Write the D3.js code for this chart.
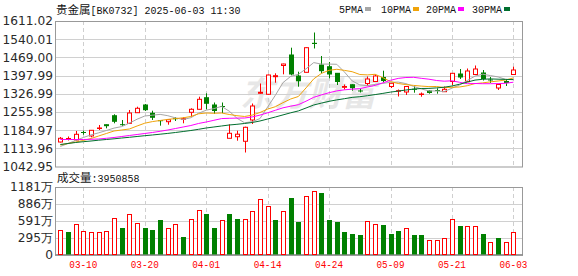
<!doctype html>
<html>
<head>
<meta charset="utf-8">
<script src="https://d3js.org/d3.v7.min.js"></script>
<style>
body { margin: 0; background: #fff; }
</style>
</head>
<body>
<script>
// trading days shown (03-05 .. 06-03)
var dates = ["03-05","03-06","03-07","03-10","03-11","03-12","03-13","03-14","03-17","03-18",
  "03-19","03-20","03-21","03-24","03-25","03-26","03-27","03-28","03-31","04-01",
  "04-02","04-03","04-07","04-08","04-09","04-10","04-11","04-14","04-15","04-16",
  "04-17","04-18","04-21","04-22","04-23","04-24","04-25","04-28","04-29","04-30",
  "05-06","05-07","05-08","05-09","05-12","05-13","05-14","05-15","05-16","05-19",
  "05-20","05-21","05-22","05-23","05-26","05-27","05-28","05-29","05-30","06-03"];

var opens = [1138.6,1150.3,1146.4,1175.7,1162.1,1191.3,1206.2,1241.3,1206.2,1211.6,
  1253.0,1283.1,1250.7,1221.8,1217.9,1229.6,1227.3,1254.6,1266.3,1311.6,
  1283.1,1277.2,1153.1,1159.3,1141.4,1224.5,1328.8,1324.9,1393.6,1437.3,
  1478.3,1396.3,1410.7,1523.9,1439.2,1432.6,1406.8,1352.2,1362.3,1337.7,
  1367.0,1374.8,1390.4,1355.3,1336.9,1333.8,1344.4,1324.1,1337.7,1339.7,
  1335.0,1374.8,1404.1,1374.0,1402.1,1408.0,1380.7,1349.4,1374.8,1402.1];
var highs = [1158.2,1160.1,1181.6,1182.7,1185.5,1205.0,1207.0,1246.8,1224.5,1263.6,
  1276.4,1287.0,1260.8,1223.3,1226.5,1235.1,1235.1,1270.2,1315.5,1328.8,
  1292.8,1292.8,1207.7,1182.7,1198.4,1288.9,1367.0,1402.1,1406.8,1444.3,
  1506.8,1413.1,1508.3,1566.1,1474.4,1451.0,1408.0,1363.1,1363.9,1346.7,
  1394.4,1402.1,1417.0,1368.2,1343.6,1356.1,1358.4,1331.9,1341.6,1348.3,
  1355.3,1407.2,1423.6,1425.6,1437.3,1419.7,1392.4,1363.9,1382.6,1432.6];
var lows = [1136.7,1144.5,1144.5,1167.1,1157.0,1185.5,1192.1,1211.6,1201.5,1209.7,
  1253.0,1259.7,1224.5,1202.3,1206.2,1220.6,1211.6,1237.4,1265.5,1265.5,
  1248.0,1251.8,1153.1,1143.7,1097.6,1208.9,1326.8,1322.1,1370.1,1402.9,
  1399.0,1354.5,1410.0,1503.7,1406.8,1387.3,1361.2,1343.6,1338.9,1331.9,
  1358.4,1372.9,1371.7,1349.4,1316.3,1322.1,1331.1,1315.5,1327.2,1327.2,
  1333.8,1361.2,1384.6,1372.9,1400.2,1378.7,1369.0,1341.6,1357.2,1402.1];
var closes = [1153.1,1152.3,1168.7,1173.8,1184.3,1193.3,1198.4,1215.5,1202.3,1251.8,
  1270.2,1260.8,1231.1,1217.9,1225.7,1227.3,1229.6,1266.3,1305.3,1285.8,
  1257.7,1273.3,1172.6,1169.1,1196.0,1279.2,1332.7,1400.2,1397.5,1443.1,
  1400.2,1374.0,1506.8,1519.3,1413.1,1400.2,1370.9,1355.3,1346.7,1335.0,
  1384.6,1396.3,1374.8,1367.8,1338.9,1355.3,1342.0,1326.0,1328.0,1337.7,
  1344.4,1406.8,1388.5,1415.8,1423.6,1382.6,1378.0,1363.1,1367.0,1419.7];

var ma5 = [1121.1,1132.8,1144.5,1156.2,1166.4,1174.5,1183.5,1192.9,1198.8,1212.4,
  1227.6,1240.1,1243.3,1246.4,1241.3,1232.7,1226.5,1233.5,1250.7,1262.8,
  1269.0,1277.6,1258.9,1231.5,1213.6,1217.9,1230.0,1275.3,1320.9,1370.5,
  1394.7,1402.9,1424.4,1448.6,1442.8,1442.8,1442.0,1411.9,1377.2,1361.5,
  1358.4,1363.5,1367.4,1371.7,1372.5,1366.6,1355.7,1345.9,1338.1,1337.7,
  1335.8,1348.7,1361.2,1378.7,1395.9,1403.3,1397.9,1392.8,1383.0,1382.2];
var ma10 = [1126.9,1132.8,1138.6,1144.5,1152.3,1162.1,1171.8,1181.6,1185.5,1189.4,
  1201.1,1212.0,1218.3,1222.6,1226.9,1230.0,1233.1,1238.2,1248.7,1251.8,
  1250.7,1251.8,1246.0,1241.3,1238.2,1243.6,1253.8,1267.1,1276.4,1292.1,
  1306.5,1316.3,1349.8,1385.0,1406.4,1418.5,1422.5,1418.2,1413.1,1402.2,
  1400.6,1402.9,1389.7,1374.4,1367.0,1362.7,1359.6,1356.9,1354.9,1355.3,
  1351.0,1352.2,1353.4,1358.4,1366.6,1369.4,1373.3,1376.8,1380.7,1388.9];
var ma20 = [1148.4,1148.4,1148.4,1148.4,1149.2,1150.3,1153.1,1156.2,1160.1,1164.0,
  1167.9,1171.8,1175.7,1180.4,1185.5,1191.3,1197.2,1203.0,1210.9,1216.7,
  1223.3,1230.0,1231.2,1231.9,1232.3,1236.6,1243.6,1252.6,1262.4,1272.1,
  1278.4,1284.3,1297.9,1313.1,1322.5,1331.1,1338.1,1342.4,1344.8,1347.1,
  1353.4,1359.6,1369.7,1379.5,1386.9,1390.4,1391.2,1387.3,1383.8,1378.7,
  1376.0,1377.6,1371.7,1366.2,1367.0,1366.2,1366.2,1366.6,1367.8,1372.1];
var ma30 = [1128.9,1132.8,1136.7,1139.8,1142.5,1145.7,1148.4,1151.1,1154.2,1157.0,
  1160.1,1163.2,1166.0,1169.1,1172.2,1175.7,1179.6,1183.5,1188.2,1193.3,
  1197.2,1201.1,1205.0,1207.7,1210.9,1214.8,1220.6,1228.4,1236.2,1244.4,
  1252.6,1260.0,1271.4,1283.1,1290.5,1297.5,1303.0,1307.7,1312.8,1315.5,
  1319.4,1323.7,1328.4,1333.4,1337.3,1341.6,1345.2,1347.5,1347.9,1349.8,
  1352.6,1357.3,1364.3,1372.5,1380.3,1383.4,1385.0,1383.8,1383.0,1382.2];

// volume in 万 (10k)
var volumes = [426,396,542,408,391,391,408,646,466,716,
  559,466,426,599,472,525,309,617,773,703,
  466,611,703,617,617,756,976,855,599,756,
  987,570,1016,1103,1074,599,570,396,356,339,
  582,530,512,356,408,455,339,339,252,252,
  281,629,495,495,495,356,212,292,212,395];
// 1 = red (up vs previous close), 0 = green
var volUp = [1,0,1,1,1,1,1,1,0,1, 1,0,0,0,1,1,0,1,1,0,
  0,1,0,0,1,1,1,1,0,1, 0,0,1,1,0,0,0,0,0,0,
  1,1,0,0,0,1,0,0,1,1, 1,1,0,1,1,0,1,0,1,1];

var priceTicks = [1611.02,1540.01,1469.00,1397.99,1326.99,1255.98,1184.97,1113.96,1042.95];
var volTicks = [0,295,591,886,1181];
var dateTicks = ["03-10","03-20","04-01","04-14","04-24","05-09","05-21","06-03"];
var maNames = ["5PMA","10PMA","20PMA","30PMA"];
var maColors = ["#a6a6a6","#f0a30a","#ff00ff","#006e2e"];

var W = 578, H = 276;
var left = 55, right = 522;
var mainTop = 21, mainBottom = 166.5;
var volTop = 187, volBottom = 254.5;
var RED = "#ff0000", GREEN = "#008000";

var svg = d3.select("body").append("svg")
  .attr("width", W).attr("height", H)
  .style("font-family", "'DejaVu Sans', sans-serif");

var x = d3.scalePoint().domain(dates).range([60.3, 513.4]);
var y = d3.scaleLinear().domain([1042.95, 1611.02]).range([mainBottom, mainTop]);
var yv = d3.scaleLinear().domain([0, 1181]).range([volBottom, volTop]);
var px = function(d) { return Math.round(x(d)); };

// watermark
svg.append("text")
  .attr("x", 240).attr("y", 106)
  .attr("font-family", "'Noto Sans CJK SC'")
  .attr("font-size", 34).attr("font-weight", "bold").attr("font-style", "italic")
  .attr("fill", "#000").attr("opacity", 0.09)
  .text("东方财富");

// grid for main panel
svg.append("g").selectAll("line").data(priceTicks.slice(1, -1)).enter().append("line")
  .attr("x1", left).attr("x2", right)
  .attr("y1", function(d) { return Math.round(y(d)) + 0.5; })
  .attr("y2", function(d) { return Math.round(y(d)) + 0.5; })
  .attr("stroke", "#d0d0d0");
svg.append("g").selectAll("line").data(volTicks.slice(1, -1)).enter().append("line")
  .attr("x1", left).attr("x2", right)
  .attr("y1", function(d) { return Math.round(yv(d)) + 0.5; })
  .attr("y2", function(d) { return Math.round(yv(d)) + 0.5; })
  .attr("stroke", "#d0d0d0");

// vertical dashed lines at date ticks, both panels
[[mainTop, mainBottom], [volTop, volBottom]].forEach(function(r) {
  svg.append("g").selectAll("line").data(dateTicks).enter().append("line")
    .attr("x1", function(d) { return px(d) + 0.5; })
    .attr("x2", function(d) { return px(d) + 0.5; })
    .attr("y1", r[0]).attr("y2", r[1])
    .attr("stroke", "#cfcfcf").attr("stroke-dasharray", "4,3");
});

// frames
svg.append("rect").attr("x", left + 0.5).attr("y", mainTop + 0.5)
  .attr("width", right - left).attr("height", mainBottom - mainTop)
  .attr("fill", "none").attr("stroke", "#999");
svg.append("rect").attr("x", left + 0.5).attr("y", volTop + 0.5)
  .attr("width", right - left).attr("height", volBottom - volTop)
  .attr("fill", "none").attr("stroke", "#999");
svg.append("line").attr("x1", left).attr("x2", right + 1)
  .attr("y1", volBottom + 0.5).attr("y2", volBottom + 0.5)
  .attr("stroke", "#888").attr("stroke-width", 1.5);

// candles
var idx = d3.range(dates.length);
var cg = svg.append("g");
cg.selectAll("line.wick").data(idx).enter().append("line")
  .attr("x1", function(i) { return px(dates[i]) + 0.5; })
  .attr("x2", function(i) { return px(dates[i]) + 0.5; })
  .attr("y1", function(i) { return y(highs[i]); })
  .attr("y2", function(i) { return y(lows[i]); })
  .attr("stroke", function(i) { return closes[i] >= opens[i] ? RED : GREEN; });
cg.selectAll("rect.body").data(idx).enter().append("rect")
  .attr("x", function(i) { return closes[i] >= opens[i] ? px(dates[i]) - 1.5 : px(dates[i]) - 2; })
  .attr("y", function(i) {
    var t = y(Math.max(opens[i], closes[i]));
    return closes[i] >= opens[i] ? t : t - 0.5;
  })
  .attr("width", function(i) { return closes[i] >= opens[i] ? 4 : 5; })
  .attr("height", function(i) {
    var h = Math.abs(y(opens[i]) - y(closes[i]));
    return closes[i] >= opens[i] ? Math.max(h, 0.5) : Math.max(h, 1);
  })
  .attr("fill", function(i) { return closes[i] >= opens[i] ? "#fff" : GREEN; })
  .attr("stroke", function(i) { return closes[i] >= opens[i] ? RED : "none"; })
  .attr("stroke-width", 1);

// moving averages
var line = d3.line().x(function(d, i) { return x(dates[i]); }).y(function(d) { return y(d); });
[ma5, ma10, ma20, ma30].forEach(function(s, k) {
  svg.append("path").datum(s).attr("d", line)
    .attr("fill", "none").attr("stroke", maColors[k]).attr("stroke-width", 1);
});

// volume bars
svg.append("g").selectAll("rect").data(idx).enter().append("rect")
  .attr("x", function(i) { return volUp[i] ? px(dates[i]) - 1.5 : px(dates[i]) - 2; })
  .attr("y", function(i) { return Math.round(yv(volumes[i])) + (volUp[i] ? 0.5 : 0); })
  .attr("width", function(i) { return volUp[i] ? 4 : 5; })
  .attr("height", function(i) { return volBottom - Math.round(yv(volumes[i])) - (volUp[i] ? 0.5 : 0); })
  .attr("fill", function(i) { return volUp[i] ? "#fff" : GREEN; })
  .attr("stroke", function(i) { return volUp[i] ? RED : "none"; });

// price axis labels
svg.append("g").selectAll("text").data(priceTicks).enter().append("text")
  .attr("x", 53).attr("y", function(d) { return y(d); })
  .attr("dy", "0.36em").attr("text-anchor", "end")
  .attr("font-size", 12.2).attr("fill", "#2a2a2a")
  .text(function(d) { return d.toFixed(2); });

// volume axis labels
svg.append("g").selectAll("text").data(volTicks).enter().append("text")
  .attr("x", 53).attr("y", function(d) { return yv(d); })
  .attr("dy", "0.36em").attr("text-anchor", "end")
  .attr("font-size", 12.2).attr("fill", "#2a2a2a")
  .text(function(d) { return d === 0 ? "0" : d + "万"; });

// date labels
svg.append("g").selectAll("text").data(dateTicks).enter().append("text")
  .attr("x", function(d) { return x(d); }).attr("y", 268)
  .attr("text-anchor", "middle")
  .attr("font-family", "'Liberation Mono', monospace")
  .attr("font-size", 10).attr("fill", RED)
  .attr("textLength", 28).attr("lengthAdjust", "spacingAndGlyphs")
  .text(function(d) { return d; });

// title
var title = svg.append("text").attr("x", 56).attr("y", 14).attr("fill", "#111");
title.append("tspan").attr("font-family", "'Noto Sans CJK SC'").attr("font-size", 11.5).text("贵金属");
title.append("tspan").attr("font-family", "'Liberation Mono', monospace").attr("font-size", 10)
  .text("[BK0732] 2025-06-03 11:30");

// volume title
var vt = svg.append("text").attr("x", 57).attr("y", 182).attr("fill", "#111");
vt.append("tspan").attr("font-family", "'Noto Sans CJK SC'").attr("font-size", 11.5).text("成交量");
vt.append("tspan").attr("font-family", "'Liberation Mono', monospace").attr("font-size", 10).text(":3950858");

// legend
var legX = [339, 381, 426, 472];
var leg = svg.append("g").selectAll("g").data(maNames).enter().append("g")
  .attr("transform", function(d, k) { return "translate(" + legX[k] + ",0)"; });
leg.append("text").attr("x", 0).attr("y", 13)
  .attr("font-family", "'Liberation Mono', monospace").attr("font-size", 10)
  .attr("fill", "#111").text(function(d) { return d; });
leg.append("rect")
  .attr("x", function(d) { return d.length * 6 + 2; }).attr("y", 7)
  .attr("width", 6).attr("height", 4)
  .attr("fill", function(d, k) { return maColors[k]; });
</script>
</body>
</html>
